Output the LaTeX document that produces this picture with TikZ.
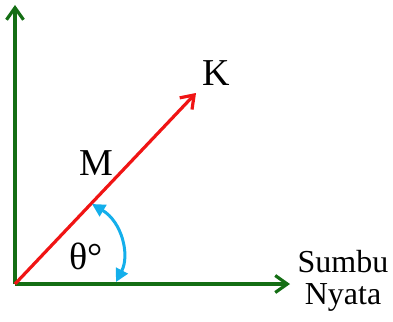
\documentclass[tikz,border=0pt]{standalone}
\usepackage{fontspec}
\setmainfont{Liberation Serif}
\usetikzlibrary{arrows.meta}
\definecolor{axisgreen}{RGB}{20,110,20}
\definecolor{vecred}{RGB}{240,20,20}
\definecolor{arcblue}{RGB}{20,175,235}
\tikzset{
  axis/.style={draw=axisgreen, line width=3.2pt, -{Straight Barb[length=12pt,width=17pt,line width=3.2pt]}},
  vec/.style={draw=vecred, line width=3.2pt, -{Straight Barb[length=12pt,width=17pt,line width=3.2pt]}},
  angarc/.style={draw=arcblue, line width=3pt, {Triangle[length=13pt,width=13pt]}-{Triangle[length=13pt,width=13pt]}},
  lbl/.style={inner sep=0pt, font=\fontsize{38}{40}\selectfont},
  axlbl/.style={inner sep=0pt, align=center, font=\fontsize{32}{32}\selectfont}
}
\begin{document}
\begin{tikzpicture}[x=1pt,y=-1pt]
\useasboundingbox (0,0) rectangle (393,321);
\coordinate (O) at (15,284);
\coordinate (Ytip) at (15,5);
\coordinate (Xtip) at (290,284);
\coordinate (Ktip) at (196,93);
\coordinate (A1) at (116,282);
\coordinate (A2) at (92,204);
\draw[axis] (O) -- (Ytip);
\draw[axis] (O) -- (Xtip);
\draw[vec] (O) -- (Ktip);
\draw[angarc] (A1) .. controls (130,255) and (122,222) .. (A2);
\node[lbl] (K) at (216,73) {K};
\node[lbl] (M) at (96,163) {M};
\node[lbl] (theta) at (86,256) {θ°};
\node[axlbl] (axis) at (343,281) {Sumbu\\Nyata};
\end{tikzpicture}
\end{document}
